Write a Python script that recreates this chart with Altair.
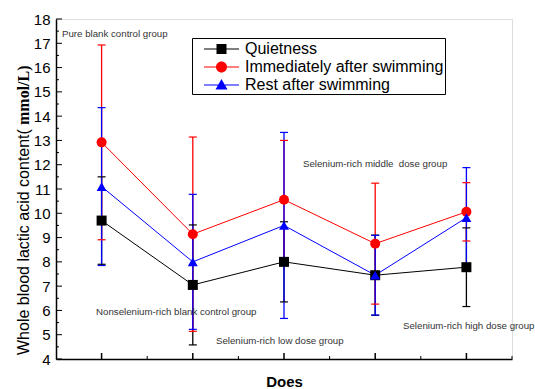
import altair as alt
import pandas as pd

# Dose groups along the x axis (positions 1..5)
groups = [1, 2, 3, 4, 5]
series_names = ["Quietness", "Immediately after swimming", "Rest after swimming"]
series_colors = ["#000000", "#ff0000", "#0000ff"]

# Whole blood lactic acid, mean and SD (mmol/L)
quiet_mean = [9.70, 7.05, 8.00, 7.45, 7.78]
quiet_sd = [1.80, 2.47, 1.65, 1.65, 1.62]
swim_mean = [12.92, 9.14, 10.56, 8.75, 10.06]
swim_sd = [4.01, 4.00, 2.44, 2.49, 1.20]
rest_mean = [11.10, 8.00, 9.50, 7.45, 9.82]
rest_sd = [3.25, 2.78, 3.83, 1.64, 2.06]

# Group annotations placed in data coordinates
group_labels = [
    "Pure blank control group",
    "Nonselenium-rich blank control group",
    "Selenium-rich low dose group",
    "Selenium-rich middle\u00a0 dose group",
    "Selenium-rich high dose group",
]
label_x = [0.566, 0.939, 2.254, 3.208, 4.305]
label_y = [17.38, 5.93, 4.74, 12.03, 5.36]

y_major = list(range(4, 19))
y_minor = [v + 0.5 for v in range(4, 18)]
x_major = [1, 2, 3, 4, 5]
x_minor = [1.5, 2.5, 3.5, 4.5, 5.5]

rows = []
for name, means, sds in zip(series_names, [quiet_mean, swim_mean, rest_mean], [quiet_sd, swim_sd, rest_sd]):
    for g, m, s in zip(groups, means, sds):
        rows.append({"group": g, "series": name, "mean": m, "lo": m - s, "hi": m + s})
df = pd.DataFrame(rows)

ann = pd.DataFrame({"label": group_labels, "x": label_x, "y": label_y})

FONT = "Liberation Sans"
W, H = 456, 340

xscale = alt.Scale(domain=[0.5, 5.5], nice=False, zero=False)
yscale = alt.Scale(domain=[4, 18], nice=False, zero=False)
cscale = alt.Scale(domain=series_names, range=series_colors)

# One axis definition shared by every layer so the merged axes stay intact
x_axis = alt.Axis(labels=False, ticks=False, grid=False, domainColor="black", domainWidth=1.5,
                  title="Does", titleFont=FONT, titleFontSize=15, titleFontWeight="bold",
                  titleColor="black", titlePadding=15)
y_axis = alt.Axis(values=y_major, ticks=False, grid=False, labelFont=FONT, labelFontSize=15,
                  labelColor="black", labelPadding=6, domainColor="black", domainWidth=1.5,
                  title=None)


def xq(field):
    return alt.X(field, type="quantitative", scale=xscale, axis=x_axis)


def yq(field):
    return alt.Y(field, type="quantitative", scale=yscale, axis=y_axis)


color_nolegend = alt.Color("series:N", scale=cscale, legend=None)

errbars = alt.Chart(df).mark_rule(strokeWidth=1.3).encode(
    x=xq("group"), y=yq("lo"), y2="hi", color=color_nolegend,
)
caps_hi = alt.Chart(df).mark_tick(orient="horizontal", size=8, thickness=1.2, opacity=1).encode(
    x=xq("group"), y=yq("hi"), color=color_nolegend,
)
caps_lo = alt.Chart(df).mark_tick(orient="horizontal", size=8, thickness=1.2, opacity=1).encode(
    x=xq("group"), y=yq("lo"), color=color_nolegend,
)

lines = alt.Chart(df).mark_line(strokeWidth=1).encode(
    x=xq("group"), y=yq("mean"), color=color_nolegend,
)
points = alt.Chart(df).mark_point(filled=True, opacity=1, size=100).encode(
    x=xq("group"), y=yq("mean"),
    color=color_nolegend,
    shape=alt.Shape("series:N", scale=alt.Scale(domain=series_names,
                                                range=["square", "circle", "triangle-up"]),
                    legend=None),
)

# Legend symbols: a line segment with the series marker on it
seg = "M0.1,-0.05H3.6V0.05H0.1Z "
legend_paths = [
    seg + "M1.35,-0.5H2.35V0.5H1.35Z",
    seg + "M2.4,0A0.55,0.55 0 1,1 1.3,0A0.55,0.55 0 1,1 2.4,0Z",
    seg + "M1.85,-0.6L2.45,0.45L1.25,0.45Z",
]
legend_def = alt.Legend(
    title=None, orient="none", legendX=136, legendY=19,
    strokeColor="black", fillColor="white", padding=1, rowPadding=0,
    labelOffset=32, labelFont=FONT, labelFontSize=16, labelColor="black",
    labelLimit=0, symbolSize=400, symbolStrokeWidth=0,
)
legend_layer = alt.Chart(df).transform_filter("false").mark_point(
    filled=True, opacity=1, size=400
).encode(
    x=xq("group"), y=yq("mean"),
    color=alt.Color("series:N", scale=cscale, legend=legend_def),
    shape=alt.Shape("series:N", scale=alt.Scale(domain=series_names, range=legend_paths),
                    legend=legend_def),
)

# Inward-pointing axis ticks
ymaj = alt.Chart(pd.DataFrame({"v": y_major})).mark_rule(color="black", strokeWidth=1).encode(
    y=yq("v"), x=alt.value(0), x2=alt.value(6))
ymin = alt.Chart(pd.DataFrame({"v": y_minor})).mark_rule(color="black", strokeWidth=1).encode(
    y=yq("v"), x=alt.value(0), x2=alt.value(3))
xmaj = alt.Chart(pd.DataFrame({"v": x_major})).mark_rule(color="black", strokeWidth=1.5).encode(
    x=xq("v"), y=alt.value(H), y2=alt.value(H - 6))
xmin = alt.Chart(pd.DataFrame({"v": x_minor})).mark_rule(color="black", strokeWidth=1).encode(
    x=xq("v"), y=alt.value(H), y2=alt.value(H - 3))

annotations = alt.Chart(ann).mark_text(
    align="left", baseline="middle", font=FONT, fontSize=9.7, color="#333333"
).encode(
    x=xq("x"), y=yq("y"), text="label:N",
)

# Y axis title: plain sans part plus bold serif unit
ytitle_plain = alt.Chart(pd.DataFrame({"t": ["Whole blood lactic acid content("]})).mark_text(
    angle=270, align="left", baseline="alphabetic", font=FONT, fontSize=16, color="black"
).encode(x=alt.value(-27), y=alt.value(336), text="t:N")
ytitle_unit = alt.Chart(pd.DataFrame({"t": ["mmol/L)"]})).mark_text(
    angle=270, align="left", baseline="alphabetic", font="Liberation Serif", fontSize=16,
    fontWeight="bold", color="black"
).encode(x=alt.value(-27), y=alt.value(106), text="t:N")

chart = alt.layer(
    lines, ymaj, ymin, xmaj, xmin, errbars, caps_hi, caps_lo, points, legend_layer,
    annotations, ytitle_plain, ytitle_unit,
).resolve_scale(shape="independent", color="independent").properties(
    width=W, height=H,
    autosize=alt.AutoSizeParams(type="none"),
    padding={"left": 56, "top": 19, "right": 23, "bottom": 30},
).configure_view(stroke=None).configure(background="white")

chart.save("out.html", embed_options={"renderer": "svg", "actions": False})
